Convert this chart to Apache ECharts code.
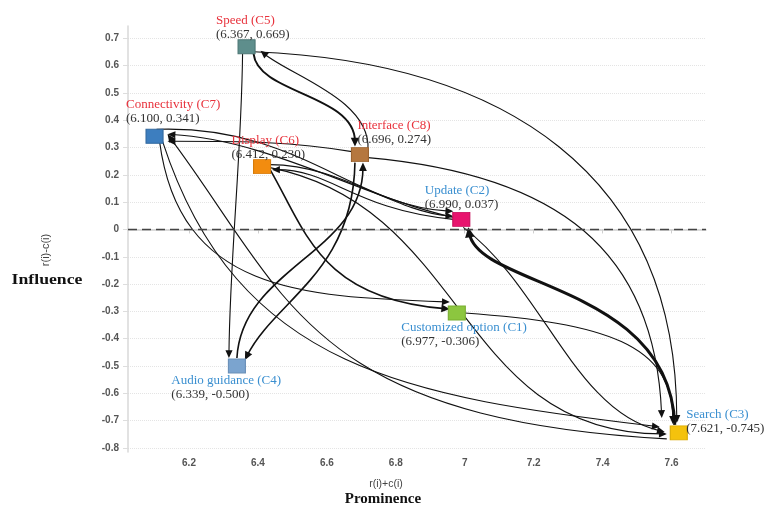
<!DOCTYPE html>
<html><head><meta charset="utf-8">
<script src="https://cdn.jsdelivr.net/npm/echarts@6/dist/echarts.min.js"></script>
<style>html,body{margin:0;padding:0;background:#fff}#c{width:778px;height:506px}</style>
</head><body><div id="c"></div>
<script>
// ---- data ----
const names = ['Customized option (C1)','Update (C2)','Search (C3)','Audio guidance (C4)','Speed (C5)','Display (C6)','Connectivity (C7)','Interface (C8)'];
const prominence = [6.977, 6.990, 7.621, 6.339, 6.367, 6.412, 6.100, 6.696];
const influence  = [-0.306, 0.037, -0.745, -0.500, 0.669, 0.230, 0.341, 0.274];
const xTicks = [6.2, 6.4, 6.6, 6.8, 7.0, 7.2, 7.4, 7.6];
const yTicks = [-0.8,-0.7,-0.6,-0.5,-0.4,-0.3,-0.2,-0.1,0,0.1,0.2,0.3,0.4,0.5,0.6,0.7];
// directed relations (indices into names)
const edgeFrom = [4,4,4,7,7,6,5,1,1,6,5,3,7,6,2,2,1,5,0,7];
const edgeTo   = [3,7,2,4,2,1,1,6,5,0,0,7,3,2,6,1,2,2,2,6];

// ---- styles ----
const nodeColors  = ['#8cc63f','#e8146e','#f4c20d','#7ba4cf','#5e8e8c','#f28c0f','#3d7ebf','#b5773f'];
const nodeBorders = ['#79ad30','#c70f5c','#d9a900','#6a90b8','#4d7775','#d67a08','#31689f','#9b6330'];
const nameStyle   = ['b','b','b','b','r','r','r','r'];
const labelL = [-55,-36,8,-65,-30,-30,-28,-2];
const labelT = [15.5,-27.5,-17.5,15.5,-25.5,-25.5,-30.5,-28.5];
const edgeWidth = [1.1,2.0,1.1,1.1,1.1,1.1,1.1,1.1,1.1,1.1,1.6,1.6,1.6,1.1,1.1,3.0,1.1,1.1,1.1,1.1];
// [startDx,startDy, cp1Dx,cp1Dy (from start), cp2Dx,cp2Dy (from end), endDx,endDy] in px
const edgeShape = [
 [-4,7, -1,100, 1,-100, -8,-8],
 [7,7, 4,40, 0,-52, -5,-8],
 [7,5, 250,10, 0,-250, -2,-10],
 [8,-5, 3,-50, 30,25, 14,4],
 [8,3, 190,17, -7,-168, -17,-15],
 [2,-7, 140,-5, -100,-5, -8,-8],
 [8,-2, 70,0, -60,-5, -8,-3],
 [-8,-2, -90,-20, 100,5, 13,-2],
 [-8,0, -100,-10, 60,0, 10,3],
 [5,5, 20,150, -150,-5, -7,-11],
 [8,3, 35,60, -130,-10, -7,-4],
 [0,-8, 5,-90, 0,90, 3,8],
 [-5,8, -2,110, 30,-60, 8,-6],
 [8,5, 75,230, -250,-30, -19,-6],
 [-12,6, -360,-20, 120,160, 13,-2],
 [-4,-8, -5,-140, 10,60, 7,8],
 [2,8, 80,60, -90,-20, -14,-1],
 [8,1, 200,40, -210,0, -12,1],
 [8,0, 140,10, 0,-80, -6,-9],
 [-8,-3, -60,-10, 80,0, 13,5]
];

const chart = echarts.init(document.getElementById('c'), null, {renderer:'canvas'});
const tickFmt = v => String(Math.round(v*10)/10);
const serif = "'Liberation Serif','DejaVu Serif',serif";
const sans = "'Liberation Sans',Arial,sans-serif";

function renderEdge(params, api){
  const i = params.dataIndex;
  const s = edgeFrom[i], t = edgeTo[i], sh = edgeShape[i], w = edgeWidth[i];
  const ps = api.coord([prominence[s], influence[s]]);
  const pt = api.coord([prominence[t], influence[t]]);
  const x0 = ps[0]+sh[0], y0 = ps[1]+sh[1];
  const x3 = pt[0]+sh[6], y3 = pt[1]+sh[7];
  const c1x = x0+sh[2], c1y = y0+sh[3], c2x = x3+sh[4], c2y = y3+sh[5];
  let dx = x3-c2x, dy = y3-c2y; let len = Math.hypot(dx,dy)||1; dx/=len; dy/=len;
  const L = 6.5 + w*1.2, H = 2.8 + w*0.7;
  const bx = x3-dx*L, by = y3-dy*L;
  return {type:'group', children:[
    {type:'bezierCurve', shape:{x1:x0,y1:y0,cpx1:c1x,cpy1:c1y,cpx2:c2x,cpy2:c2y,x2:x3-dx*L*0.6,y2:y3-dy*L*0.6},
      style:{stroke:'#111', lineWidth:w, fill:null}},
    {type:'polygon', shape:{points:[[x3,y3],[bx-dy*H,by+dx*H],[bx+dy*H,by-dx*H]]}, style:{fill:'#111'}}
  ]};
}

chart.setOption({
  animation:false,
  grid:{left:128, right:72, top:26, bottom:54},
  xAxis:{type:'value', min:6.023, max:7.70,
    axisLine:{show:true, lineStyle:{color:'#cfcfcf', width:1.5}},
    axisTick:{show:true, customValues:xTicks, length:4, lineStyle:{color:'#cfcfcf'}},
    axisLabel:{customValues:xTicks, formatter:tickFmt, color:'#555', fontSize:10, fontWeight:'bold', fontFamily:sans, margin:6},
    splitLine:{show:false}},
  yAxis:{type:'value', min:-0.815, max:0.745,
    axisLine:{show:true, lineStyle:{color:'#d8d8d8', width:1.5}},
    axisTick:{show:true, customValues:yTicks, length:5, lineStyle:{color:'#dddddd'}},
    axisLabel:{customValues:yTicks, formatter:tickFmt, color:'#555', fontSize:10, fontWeight:'bold', fontFamily:sans, margin:9},
    splitLine:{show:true, lineStyle:{color:'#e4e4e4', type:'dotted', width:1}}},
  graphic:[
    {type:'text', x:46, y:250, rotation:Math.PI/2, style:{text:'r(i)-c(i)', fill:'#444', font:"11px "+sans, align:'center', verticalAlign:'middle'}},
    {type:'text', x:47, y:280, scaleX:1.18, style:{text:'Influence', fill:'#111', font:"bold 15px "+serif, align:'center', verticalAlign:'middle'}},
    {type:'text', x:386, y:484, style:{text:'r(i)+c(i)', fill:'#444', font:"10.5px "+sans, align:'center', verticalAlign:'middle'}},
    {type:'text', x:383, y:499, style:{text:'Prominence', fill:'#111', font:"bold 15px "+serif, align:'center', verticalAlign:'middle'}}
  ],
  series:[
    {type:'custom', coordinateSystem:'cartesian2d', clip:false, z:2, silent:true,
     data: edgeFrom.map((s,i)=>[prominence[s], influence[s], i]),
     renderItem: renderEdge},
    {type:'scatter', z:5, symbol:'rect', symbolSize:[17,14],
     data: prominence.map((x,i)=>({
       value:[x, influence[i]],
       itemStyle:{color:nodeColors[i], borderColor:nodeBorders[i], borderWidth:1, opacity:1},
       label:{show:true, position:[labelL[i]+8.5, labelT[i]-0.5], align:'left', verticalAlign:'top',
         formatter:'{'+nameStyle[i]+'|'+names[i]+'}\n{c|('+x.toFixed(3)+', '+influence[i].toFixed(3)+')}'}
     })),
     label:{rich:{
       r:{color:'#e8323c', fontFamily:serif, fontSize:13, lineHeight:14},
       b:{color:'#3a8fd0', fontFamily:serif, fontSize:13, lineHeight:14},
       c:{color:'#333', fontFamily:serif, fontSize:13, lineHeight:14}}},
     markLine:{silent:true, symbol:['none','none'], label:{show:false},
       lineStyle:{color:'#444', type:[9,5], width:1.3},
       data:[{yAxis:0}]}
    }
  ]
});
</script></body></html>
